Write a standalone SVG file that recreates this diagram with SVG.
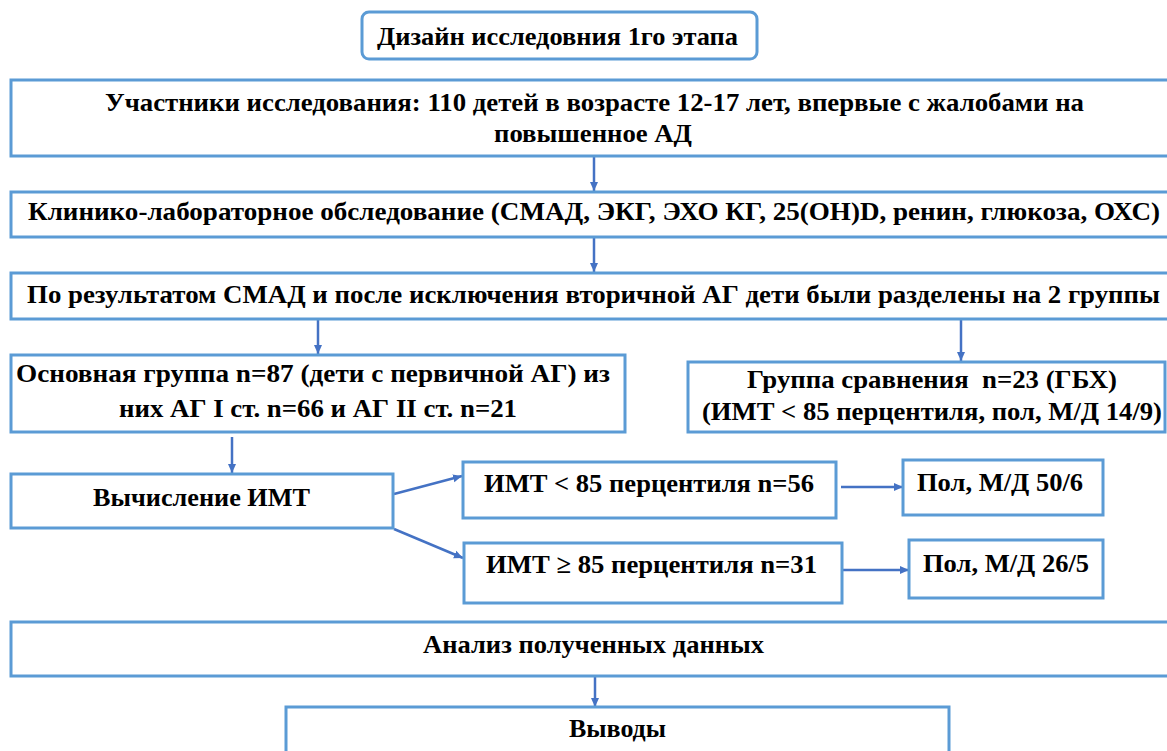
<svg xmlns="http://www.w3.org/2000/svg" width="1167" height="751" viewBox="0 0 1167 751">
<style>
.box{fill:#fff;stroke:#5B9BD5;stroke-width:3}
.c{stroke:#4472C4;stroke-width:2.5;fill:none;marker-end:url(#ah)}
.t{font-family:'Liberation Serif','Times New Roman',serif;font-weight:bold;font-size:26px;fill:#000}
</style>
<defs>
<marker id="ah" markerUnits="userSpaceOnUse" markerWidth="9" markerHeight="9" refX="9" refY="4.5" orient="auto" viewBox="0 0 9 9">
<path d="M0,0.5 L9,4.5 L0,8.5 z" fill="#4472C4"/>
</marker>
</defs>
<rect width="1167" height="751" fill="#fff"/>
<g id="connectors">
<line class="c" x1="594" y1="157" x2="594" y2="191"/>
<line class="c" x1="594" y1="238" x2="594" y2="272"/>
<line class="c" x1="318" y1="320" x2="318" y2="354"/>
<line class="c" x1="961" y1="320" x2="961" y2="361"/>
<line class="c" x1="232" y1="437" x2="232" y2="473"/>
<line class="c" x1="394" y1="494" x2="462" y2="476"/>
<line class="c" x1="394" y1="529" x2="463" y2="558"/>
<line class="c" x1="841" y1="487" x2="903" y2="487"/>
<line class="c" x1="841" y1="570" x2="909" y2="570"/>
<line class="c" x1="595" y1="677" x2="595" y2="707"/>
</g>
<g id="title"><rect class="box" x="362" y="12" width="395" height="47" rx="7" stroke-width="3.5"/><text class="t" x="377" y="45" textLength="361" lengthAdjust="spacingAndGlyphs">Дизайн исследовния 1го этапа</text></g>
<g id="participants"><rect class="box" x="11" y="80" width="1170" height="76"/><text class="t" x="105" y="111" textLength="979" lengthAdjust="spacingAndGlyphs">Участники исследования: 110 детей в возрасте 12-17 лет, впервые с жалобами на</text><text class="t" x="494" y="142" textLength="198" lengthAdjust="spacingAndGlyphs">повышенное АД</text></g>
<g id="exam"><rect class="box" x="11" y="192" width="1170" height="45"/><text class="t" x="28" y="220" textLength="1132" lengthAdjust="spacingAndGlyphs">Клинико-лабораторное обследование (СМАД, ЭКГ, ЭХО КГ, 25(OH)D, ренин, глюкоза, ОХС)</text></g>
<g id="split"><rect class="box" x="11" y="273" width="1170" height="46"/><text class="t" x="27" y="303" textLength="1133" lengthAdjust="spacingAndGlyphs">По результатом СМАД и после исключения вторичной АГ дети были разделены на 2 группы</text></g>
<g id="main-group"><rect class="box" x="11" y="355" width="614" height="77"/><text class="t" x="16" y="382" textLength="594" lengthAdjust="spacingAndGlyphs">Основная группа n=87 (дети с первичной АГ) из</text><text class="t" x="119" y="417" textLength="398" lengthAdjust="spacingAndGlyphs">них АГ I ст. n=66 и АГ II ст. n=21</text></g>
<g id="compare-group"><rect class="box" x="688" y="362" width="477" height="70"/><text class="t" x="747" y="388" textLength="370" lengthAdjust="spacingAndGlyphs" xml:space="preserve">Группа сравнения  n=23 (ГБХ)</text><text class="t" x="702" y="420" textLength="460" lengthAdjust="spacingAndGlyphs">(ИМТ &lt; 85 перцентиля, пол, М/Д 14/9)</text></g>
<g id="bmi"><rect class="box" x="11" y="474" width="382" height="54"/><text class="t" x="93" y="506" textLength="217" lengthAdjust="spacingAndGlyphs">Вычисление ИМТ</text></g>
<g id="bmi-low"><rect class="box" x="463" y="462" width="373" height="56"/><text class="t" x="484" y="492" textLength="330" lengthAdjust="spacingAndGlyphs">ИМТ &lt; 85 перцентиля n=56</text></g>
<g id="bmi-high"><rect class="box" x="464" y="543" width="378" height="60"/><text class="t" x="486" y="573" textLength="331" lengthAdjust="spacingAndGlyphs">ИМТ ≥ 85 перцентиля n=31</text></g>
<g id="sex-low"><rect class="box" x="903" y="460" width="200" height="55"/><text class="t" x="917" y="491" textLength="166" lengthAdjust="spacingAndGlyphs">Пол, М/Д 50/6</text></g>
<g id="sex-high"><rect class="box" x="909" y="540" width="194" height="58"/><text class="t" x="923" y="572" textLength="166" lengthAdjust="spacingAndGlyphs">Пол, М/Д 26/5</text></g>
<g id="analysis"><rect class="box" x="11" y="622" width="1170" height="54"/><text class="t" x="423" y="653" textLength="341" lengthAdjust="spacingAndGlyphs">Анализ полученных данных</text></g>
<g id="conclusions"><rect class="box" x="286" y="707" width="663" height="60"/><text class="t" x="569" y="737" textLength="97" lengthAdjust="spacingAndGlyphs">Выводы</text></g>
</svg>
